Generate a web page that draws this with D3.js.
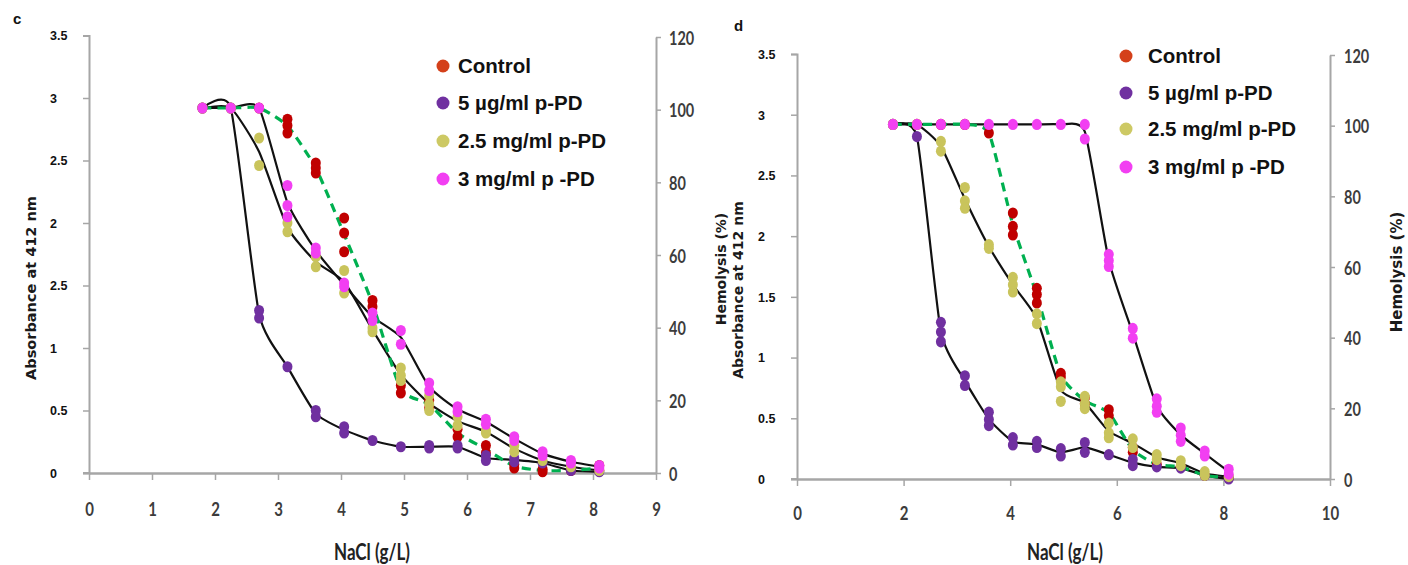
<!DOCTYPE html>
<html><head><meta charset="utf-8">
<script src="https://cdn.jsdelivr.net/npm/d3@7"></script>
<style>body{margin:0;background:#fff} svg{display:block}</style>
</head><body>
<svg id="chart" width="1408" height="565"></svg>
<script>
// ---------- data ----------
const xValues = [1.8, 2.25, 2.7, 3.15, 3.6, 4.05, 4.5, 4.95, 5.4, 5.85, 6.3, 6.75, 7.2, 7.65, 8.1];
const seriesNames = ["Control", "5 \u00b5g/ml p-PD", "2.5 mg/ml p-PD", "3 mg/ml p -PD"];
const dotColors = ["#c00000", "#7030a0", "#c9c45c", "#f23ff2"];
const legendDotColors = ["#d4401a", "#7030a0", "#cdc964", "#f23ff2"];

const leftTicks = [0, 0.5, 1, 1.5, 2, 2.5, 3, 3.5];
const leftTickLabelsC = ["0", "0.5", "1", "2.5", "2", "2.5", "3", "3.5"];
const leftTickLabelsD = ["0", "0.5", "1", "1.5", "2", "2.5", "3", "3.5"];
const xTicksC = [0, 1, 2, 3, 4, 5, 6, 7, 8, 9];
const xTicksD = [0, 2, 4, 6, 8, 10];
const rightTicks = [0, 20, 40, 60, 80, 100, 120];

// panel c : absorbance replicates per NaCl concentration
const cControl = [[2.92],[2.92],[2.92],[2.83,2.78,2.72],[2.48,2.44,2.40],[2.04,1.92,1.77],[1.38,1.33],[0.70,0.64],[0.58,0.52],[0.35,0.29],[0.22,0.16],[0.07,0.04],[0.03,0.01],[0.02],[0.06,0.02]];
const cLow     = [[2.92],[2.92],[1.30,1.24],[0.85],[0.50,0.45],[0.37,0.32],[0.26],[0.21],[0.22,0.20],[0.22,0.20],[0.14,0.10],[0.12,0.09],[0.08],[0.02],[0.01]];
const cMid     = [[2.92],[2.92],[2.68,2.46],[2.00,1.93],[1.73,1.65],[1.62,1.44],[1.16,1.13],[0.84,0.78,0.74],[0.62,0.55,0.50],[0.45,0.38],[0.34,0.32],[0.22,0.17],[0.10],[0.05],[0.02]];
const cHigh    = [[2.92],[2.92],[2.92],[2.30,2.14,2.05],[1.80,1.76],[1.52,1.49],[1.28,1.22],[1.14,1.03],[0.72,0.66],[0.53,0.49],[0.43,0.39],[0.29,0.26],[0.17,0.14],[0.10,0.08],[0.06,0.04]];

// panel d
const dControl = [[2.92],[2.92],[2.92],[2.92],[2.85],[2.19,2.08,2.01],[1.57,1.52,1.45],[0.87,0.84],[0.67,0.62],[0.57,0.52],[0.26,0.22],[0.12],[0.10],[0.03],[0.01]];
const dLow     = [[2.92],[2.82],[1.29,1.21,1.13],[0.85,0.77],[0.55,0.49,0.44],[0.34,0.28],[0.31,0.26],[0.25,0.19],[0.30,0.22],[0.20],[0.16,0.11],[0.10],[0.09],[0.03],[0.00]];
const dMid     = [[2.92],[2.92],[2.78,2.70],[2.40,2.29,2.23],[1.93,1.90],[1.66,1.60,1.54],[1.36,1.28],[0.80,0.76,0.64],[0.68,0.62,0.58],[0.46,0.38,0.34],[0.33,0.26],[0.20,0.16],[0.15,0.11],[0.06,0.03],[0.02]];
const dHigh    = [[2.92],[2.92],[2.92],[2.92],[2.92],[2.92],[2.92],[2.92],[2.92,2.80],[1.85,1.80,1.75],[1.24,1.16],[0.66,0.60,0.55],[0.42,0.36,0.31],[0.23,0.19],[0.08,0.04]];

// ---------- drawing ----------
const svg = d3.select("#chart");
const axisGray = "#a6a6a6";
const calFont = "Lato, 'Open Sans', sans-serif";

function stretchText(g, x, y, txt, opts) {
  return g.append("g").attr("transform", `translate(${x},${y}) scale(1,${opts.sy || 1.2})`)
    .append("text").text(txt)
    .attr("text-anchor", opts.anchor || "middle")
    .attr("dominant-baseline", "central")
    .attr("font-family", opts.family || calFont)
    .attr("font-weight", opts.weight || "bold")
    .attr("font-size", opts.size)
    .attr("fill", opts.fill || "#3a3a3a");
}

function drawPanel(cfg, series) {
  const g = svg.append("g");
  const x = d3.scaleLinear().domain(cfg.xDomain).range([cfg.x0, cfg.x1]);
  const y = d3.scaleLinear().domain([0, 3.5]).range([cfg.y0, cfg.yTop]);
  const yR = d3.scaleLinear().domain([0, 120]).range([cfg.y0, cfg.rTop]);

  // left axis
  const la = g.append("g").attr("transform", `translate(${cfg.x0},0)`)
    .call(d3.axisLeft(y).tickValues(leftTicks).tickFormat((d, i) => cfg.leftLabels[i]).tickSize(6));
  la.select(".domain").attr("stroke", axisGray).attr("stroke-width", 2);
  la.selectAll(".tick line").attr("stroke", axisGray).attr("stroke-width", 1.5);
  la.selectAll(".tick text")
    .attr("x", cfg.leftLabelX - cfg.x0).attr("dy", "0.35em")
    .attr("text-anchor", "start")
    .attr("font-family", "'Liberation Sans', Arial, sans-serif")
    .attr("font-weight", "bold").attr("font-size", 12.5).attr("fill", "#111");

  // bottom axis
  const ba = g.append("g").attr("transform", `translate(0,${cfg.y0})`)
    .call(d3.axisBottom(x).tickValues(cfg.xTicks).tickFormat(d3.format("d")).tickSize(7).tickSizeOuter(0));
  ba.select(".domain").attr("stroke", axisGray).attr("stroke-width", 2.5);
  ba.selectAll(".tick line").attr("stroke", axisGray).attr("stroke-width", 1.5);
  ba.selectAll(".tick text")
    .attr("y", 0).attr("dy", 0)
    .attr("transform", `translate(0,${cfg.xLabelDy}) scale(1,1.3)`)
    .attr("dominant-baseline", "central")
    .attr("font-family", calFont).attr("font-weight", "bold")
    .attr("font-size", 15).attr("fill", "#3c3c3c");
  g.append("line").attr("x1", cfg.x0 - 6).attr("x2", cfg.x0).attr("y1", cfg.y0).attr("y2", cfg.y0)
    .attr("stroke", axisGray).attr("stroke-width", 2);

  // right axis
  const ra = g.append("g").attr("transform", `translate(${cfg.x1},0)`)
    .call(d3.axisRight(yR).tickValues(rightTicks).tickSize(5).tickSizeOuter(0));
  ra.select(".domain").attr("stroke", axisGray).attr("stroke-width", 2);
  ra.selectAll(".tick line").attr("stroke", axisGray).attr("stroke-width", 1.5);
  ra.selectAll(".tick text")
    .attr("x", 0).attr("dy", 0)
    .attr("transform", `translate(${cfg.rightLabelDx},0) scale(1,1.25)`)
    .attr("dominant-baseline", "central").attr("text-anchor", "start")
    .attr("font-family", calFont).attr("font-weight", "bold")
    .attr("font-size", 14.5).attr("fill", "#3c3c3c");

  // lines (smoothed, through replicate means)
  const line = d3.line()
    .x((d, k) => x(xValues[k]))
    .y(d => y(d3.mean(d)))
    .curve(d3.curveCardinal.tension(0.45));
  [1, 2, 3].forEach(i => {
    g.append("path").attr("d", line(series[i])).attr("fill", "none")
      .attr("stroke", "#111").attr("stroke-width", 2.2);
  });
  g.append("path").attr("d", line(series[0])).attr("fill", "none")
    .attr("stroke", "#00b050").attr("stroke-width", 3.2).attr("stroke-dasharray", "9,6");

  // dots
  series.forEach((s, i) => {
    const pts = [];
    s.forEach((reps, k) => reps.forEach(v => pts.push([xValues[k], v])));
    g.append("g").selectAll("ellipse").data(pts).join("ellipse")
      .attr("cx", d => x(d[0])).attr("cy", d => y(d[1]))
      .attr("rx", 5).attr("ry", 5.6)
      .attr("fill", dotColors[i]);
  });

  // legend
  seriesNames.forEach((name, i) => {
    const ly = cfg.legendY[i];
    g.append("circle").attr("cx", cfg.legendX).attr("cy", ly).attr("r", 6.5).attr("fill", legendDotColors[i]);
    g.append("text").attr("x", cfg.legendTextX).attr("y", ly).attr("dy", "0.36em")
      .attr("font-family", "'Liberation Sans', Arial, sans-serif")
      .attr("font-weight", "bold").attr("font-size", 20.5).attr("fill", "#111").text(name);
  });

  // panel letter
  g.append("text").attr("x", cfg.letter[0]).attr("y", cfg.letter[1])
    .attr("font-family", "'Liberation Sans', Arial, sans-serif").attr("font-weight", "bold")
    .attr("font-size", 15).attr("fill", "#111").text(cfg.letterText);

  // x title
  stretchText(g, cfg.xTitle[0], cfg.xTitle[1], "NaCl (g/L)", {size: 17, sy: 1.3, fill: "#222"});

  // rotated titles
  cfg.rotTitles.forEach(t => {
    g.append("text")
      .attr("transform", `translate(${t.x},${t.y}) rotate(-90)`)
      .attr("text-anchor", "middle").attr("dominant-baseline", "central")
      .attr("font-family", "'DejaVu Sans', Verdana, sans-serif").attr("font-weight", "bold")
      .attr("font-size", t.size).attr("fill", "#1a1a1a").text(t.text);
  });
}

drawPanel({
  xDomain: [0, 9], x0: 89, x1: 656, y0: 473, yTop: 35.5, rTop: 37,
  leftLabels: leftTickLabelsC, leftLabelX: 50, xTicks: xTicksC, xLabelDy: 36, rightLabelDx: 13,
  legendX: 443, legendTextX: 458, legendY: [66, 103, 141, 179],
  letter: [13, 24], letterText: "c", xTitle: [372, 552],
  rotTitles: [{x: 31, y: 288, text: "Absorbance at 412 nm", size: 14.5}]
}, [cControl, cLow, cMid, cHigh]);

drawPanel({
  xDomain: [0, 10], x0: 797, x1: 1330, y0: 479, yTop: 54, rTop: 55,
  leftLabels: leftTickLabelsD, leftLabelX: 758, xTicks: xTicksD, xLabelDy: 34, rightLabelDx: 14,
  legendX: 1126, legendTextX: 1148, legendY: [56, 93, 129, 167],
  letter: [734, 31], letterText: "d", xTitle: [1065, 552],
  rotTitles: [
    {x: 721, y: 269, text: "Hemolysis (%)", size: 14},
    {x: 738, y: 290, text: "Absorbance at 412 nm", size: 14},
    {x: 1397, y: 272, text: "Hemolysis (%)", size: 15}
  ]
}, [dControl, dLow, dMid, dHigh]);
</script>
</body></html>
